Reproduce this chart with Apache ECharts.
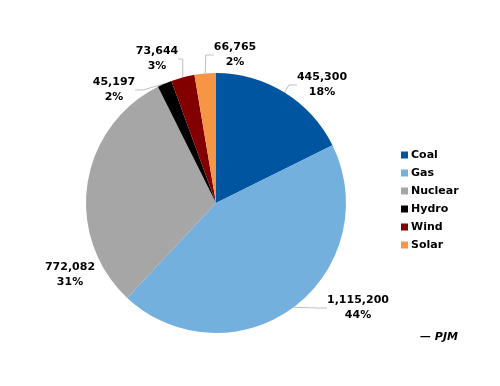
<!DOCTYPE html>
<html><head><meta charset="utf-8">
<script src="https://cdn.jsdelivr.net/npm/echarts@6/dist/echarts.min.js"></script>
<style>html,body{margin:0;padding:0;background:#fff}#c{width:500px;height:386px}</style>
</head><body><div id="c"></div>
<script>
const categories = ['Coal', 'Gas', 'Nuclear', 'Hydro', 'Wind', 'Solar'];
const values = [445300, 1115200, 772082, 45197, 73644, 66765];
const percents = ['18%', '44%', '31%', '2%', '3%', '2%'];
const colors = ['#0055a0', '#74b0dd', '#a6a6a6', '#000000', '#820000', '#f59545'];
const source = '— PJM';
// label block centres (layout only)
const labelPos = [[322, 85], [358, 308], [70, 275], [114, 90], [157, 59], [235, 55]];
const showLine = [true, true, false, true, true, true];

const FONT = '"DejaVu Sans", Verdana, sans-serif';
const chart = echarts.init(document.getElementById('c'), null, {renderer: 'canvas'});
const data = categories.map((c, i) => ({
  name: c, value: values[i], pct: percents[i], itemStyle: {color: colors[i]},
  labelLine: {show: showLine[i]}
}));
chart.setOption({
  animation: false,
  backgroundColor: '#fff',
  legend: {
    orient: 'vertical', left: 401, top: 149, padding: 0,
    itemWidth: 7, itemHeight: 7, itemGap: 6, icon: 'rect',
    textStyle: {fontFamily: FONT, fontWeight: 'bold', fontSize: 11, lineHeight: 12, color: '#000', padding: [0,0,0,-2]},
    data: categories
  },
  graphic: [{
    type: 'text', left: 420, top: 332,
    style: {text: source, font: 'italic bold 11px ' + FONT, fill: '#000'}
  }],
  series: [{
    type: 'pie', center: [216, 203], radius: 130, startAngle: 90, clockwise: true,
    data: data,
    label: {
      show: true, position: 'outside', fontFamily: FONT, fontWeight: 'bold', fontSize: 11,
      color: '#000', lineHeight: 15, align: 'center',
      formatter: p => p.value.toLocaleString('en-US') + '\n' + p.data.pct
    },
    labelLine: {show: true, length: 12, length2: 8, lineStyle: {color: '#bfbfbf', width: 1}},
    labelLayout: p => ({
      x: labelPos[p.dataIndex][0], y: labelPos[p.dataIndex][1],
      align: 'center', verticalAlign: 'middle'
    }),
    itemStyle: {borderWidth: 0}
  }]
});
</script></body></html>
